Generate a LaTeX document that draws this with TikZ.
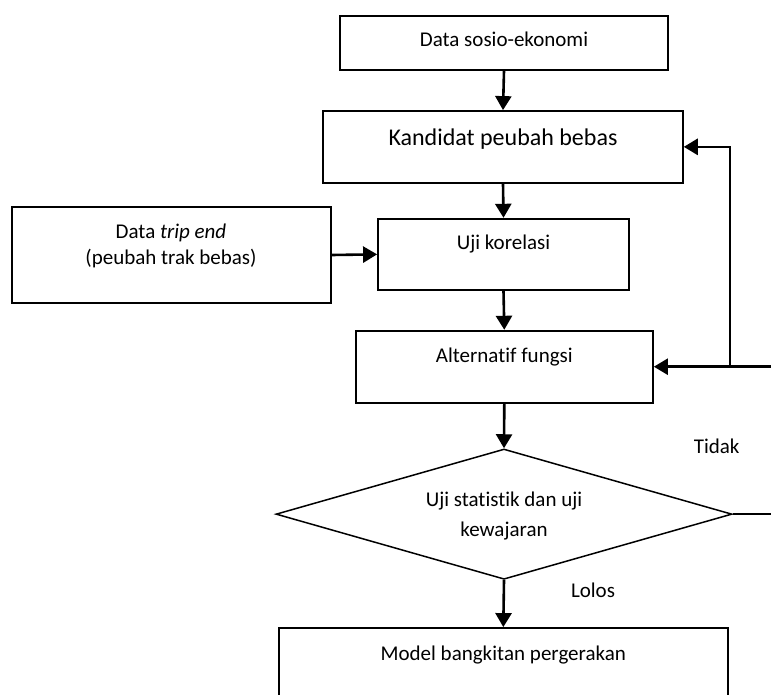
\documentclass[tikz,border=0pt]{standalone}
\usepackage{fontspec}
\setmainfont{Carlito}[Ligatures=NoCommon]
\usetikzlibrary{arrows.meta,shapes.geometric}
\newcommand\nolig{\kern0pt }
\begin{document}
\begin{tikzpicture}[x=1pt,y=-1pt,
  box/.style={draw,line width=1.8pt,rectangle,inner sep=0pt},
  dia/.style={draw,line width=1.5pt,diamond,inner sep=0pt,aspect=3.5},
  txt/.style={anchor=base,inner sep=0pt,font=\fontsize{21}{25}\selectfont},
  bigtxt/.style={anchor=base,inner sep=0pt,font=\fontsize{24}{29}\selectfont},
  arr/.style={line width=2.6pt,-{Triangle[length=14pt,width=16pt]}},
  ln/.style={line width=2.6pt}]
\useasboundingbox (0,0) rectangle (771,695);
\clip (0,0) rectangle (771,695);
% boxes
\node[box,minimum width=327.7pt,minimum height=54.3pt] (sosio) at (504,42.85) {};
\node[box,minimum width=359.7pt,minimum height=71.7pt] (kand) at (503,146.85) {};
\node[box,minimum width=251pt,minimum height=71.3pt] (kor) at (503.5,254.35) {};
\node[box,minimum width=319.3pt,minimum height=96pt] (trip) at (171.35,255) {};
\node[box,minimum width=297.3pt,minimum height=72pt] (alt) at (504.3,366.7) {};
\node[dia,minimum width=456pt,minimum height=130.3pt] (uji) at (504,514.15) {};
\node[box,minimum width=448.7pt,minimum height=110pt] (model) at (503.3,683) {};
% texts
\node[txt] (t1) at (504,46.7) {Data sosio-ekonomi};
\node[bigtxt] (t2) at (503,145.7) {Kandidat peubah bebas};
\node[txt] (t3) at (503.5,250) {Uji korelasi};
\node[txt] (t4a) at (171,238.3) {Data \textit{trip end}};
\node[txt] (t4b) at (171,264.5) {(peubah trak bebas)};
\node[txt] (t5) at (504.3,362.3) {Alternat\nolig if fungsi};
\node[txt] (t6a) at (504,506.7) {Uji stat\nolig ist\nolig ik dan uji};
\node[txt] (t6b) at (504,536.7) {kewajaran};
\node[txt] (tidak) at (716.7,453.3) {Tidak};
\node[txt] (lolos) at (593,597.7) {Lolos};
\node[txt] (t7) at (503.3,660) {Model bangkit\nolig an pergerakan};
% connectors
\coordinate (r1) at (775,514.15);
\coordinate (r2) at (775,366.7);
\coordinate (j) at (730,366.7);
\draw[arr] (sosio.south) -- (kand.north);
\draw[arr] (kand.south) -- (kor.north);
\draw[arr] (trip.east) -- (kor.west);
\draw[arr] (kor.south) -- (alt.north);
\draw[arr] (alt.south) -- (uji.north);
\draw[arr] (uji.south) -- (model.north);
\draw[ln] (uji.east) -- (r1);
\draw[arr] (r2) -- (alt.east);
\draw[arr] (j) |- (kand.east);
\end{tikzpicture}
\end{document}
